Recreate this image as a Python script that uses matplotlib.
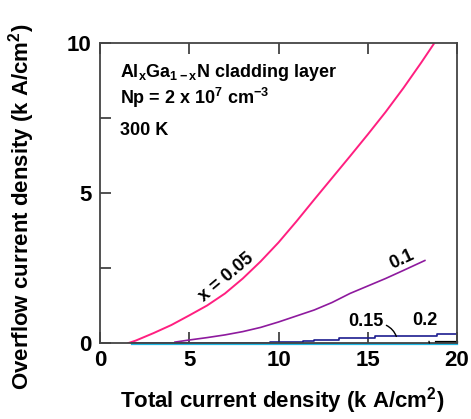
import matplotlib
matplotlib.use("Agg")
import matplotlib.pyplot as plt

plt.rcParams["font.family"] = ["Liberation Sans", "DejaVu Sans"]
plt.rcParams["font.weight"] = "bold"
plt.rcParams["mathtext.fontset"] = "custom"
plt.rcParams["mathtext.rm"] = "Liberation Sans:bold"
plt.rcParams["mathtext.it"] = "Liberation Sans:bold"
plt.rcParams["mathtext.bf"] = "Liberation Sans:bold"

# x = 0.05
x05 = [1.6, 2, 3, 4, 5, 6, 7, 8, 9, 10, 11, 12, 13, 14, 15, 16, 17, 18, 18.7]
y05 = [0, 0.08, 0.33, 0.6, 0.92, 1.25, 1.65, 2.15, 2.72, 3.35, 4.05, 4.78, 5.5, 6.22, 6.95, 7.7, 8.5, 9.35, 9.97]
# x = 0.1
x10 = [4.2, 5, 6, 7, 8, 9, 10, 11, 12, 13, 14, 15, 16, 17, 18.2]
y10 = [0.03, 0.1, 0.18, 0.27, 0.38, 0.52, 0.7, 0.9, 1.1, 1.35, 1.65, 1.9, 2.15, 2.42, 2.75]
# x = 0.15 (stepped)
x15 = [1.8, 9.5, 11.4, 12.0, 13.4, 15.4, 17.2, 18.9, 20.0]
y15 = [0.0, 0.02, 0.06, 0.1, 0.17, 0.22, 0.24, 0.31, 0.31]
# x = 0.2
x20 = [1.8, 20.0]
y20 = [-0.04, -0.04]
x20b = [18.8, 20.0]
y20b = [0.03, 0.03]

fig = plt.figure(figsize=(4.71, 4.19), dpi=100)
ax = fig.add_axes([100 / 471, 76 / 419, 357 / 471, 300 / 419])

ax.plot(x05, y05, color="#ff1f80", lw=1.4)
ax.plot(x10, y10, color="#8e1a9e", lw=1.2)
ax.plot(x15, y15, color="#1c1c8f", lw=1.2, drawstyle="steps-post")
ax.plot(x20, y20, color="#1fb8e6", lw=1.6, clip_on=False)
ax.plot(x20b, y20b, color="black", lw=1.6, clip_on=False)

ax.set_xlim(0, 20)
ax.set_ylim(0, 10)
ax.set_xticks([0, 5, 10, 15, 20])
ax.set_yticks([0, 5, 10])
ax.set_yticks([2.5, 7.5], minor=True)
ax.tick_params(axis="both", which="both", direction="in", labelsize=16, width=1.2, color="#333333")
ax.tick_params(axis="x", top=True, length=8, pad=5)
ax.tick_params(axis="y", which="major", length=8, pad=6)
ax.tick_params(axis="y", which="minor", length=8)
for s in ax.spines.values():
    s.set_color("#444444")
    s.set_linewidth(1.3)

ax.text(1.1, 9.03, "Al$_x$Ga$_{1-x}$N cladding layer", fontsize=13, va="center")
ax.text(1.1, 8.17, "Np = 2 x 10$^7$ cm$^{-3}$", fontsize=13, va="center")
ax.text(1.1, 7.1, "300 K", fontsize=13, va="center")

ax.text(7.1, 2.2, "x = 0.05", fontsize=13, rotation=40, ha="center", va="center")
ax.text(16.9, 2.78, "0.1", fontsize=13, rotation=25, ha="center", va="center")
ax.annotate("0.15", xy=(16.6, 0.22), xytext=(14.9, 0.72), fontsize=13, ha="center", va="center",
            arrowprops=dict(arrowstyle="-", lw=1, color="black", shrinkA=0, shrinkB=0,
                            connectionstyle="angle3,angleA=0,angleB=-70"))
ax.annotate("0.2", xy=(18.45, 0.0), xytext=(18.2, 0.75), fontsize=13, ha="center", va="center",
            arrowprops=dict(arrowstyle="-", lw=1, color="black", shrinkA=7, shrinkB=0))

fig.text(282 / 471, 1 - 401 / 419, "Total current density (k A/cm$^2$)", fontsize=16,
         ha="center", va="center")
fig.text(22 / 471, 1 - 207 / 419, "Overflow current density (k A/cm$^2$)", fontsize=16,
         ha="center", va="center", rotation=90)

fig.savefig("out.png", dpi=100)
